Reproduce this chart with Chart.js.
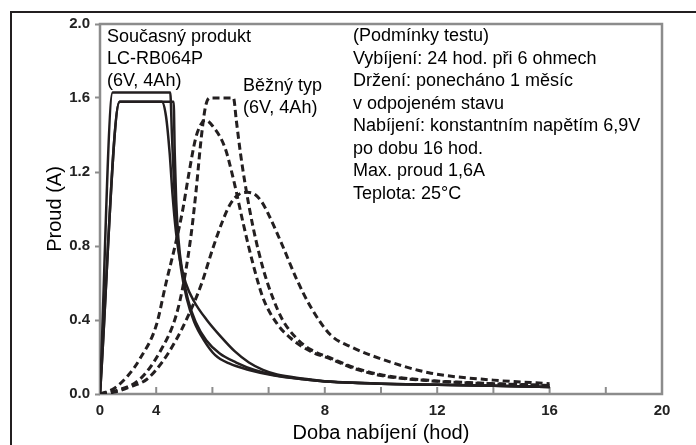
<!DOCTYPE html>
<html>
<head>
    <title>Proud při nabíjení</title>
    <script src="https://cdn.jsdelivr.net/npm/chart.js"></script>
    <style>
        body { margin: 0; background: #fff; }
        #wrap { position: relative; width: 696px; height: 445px; overflow: hidden; }
        #frame { position: absolute; left: 10px; top: 11px; width: 800px; height: 500px;
                 border-top: 2px solid #231f20; border-left: 2px solid #231f20; }
        canvas { position: absolute; left: 0; top: 0; }
    </style>
</head>
<body>
<div id="wrap">
    <div id="frame"></div>
    <canvas id="chargeChart" width="696" height="445"></canvas>
</div>

<script>
    // [hodiny, proud A]
    const currentA = [[0,0],[0.45,1.63],[2.5,1.63],[2.56,1.4],[2.64,1.12],[2.74,0.88],[2.88,0.68],[3.08,0.52],[3.35,0.39],[3.7,0.29],[4.1,0.21],[4.6,0.165],[5.3,0.13],[6.2,0.1],[7.2,0.08],[8.2,0.066],[10,0.056],[12,0.05],[14,0.044],[16,0.038]];
    const currentB = [[0,0],[0.7,1.58],[2.62,1.58],[2.66,1.3],[2.71,1.05],[2.79,0.84],[2.93,0.66],[3.13,0.51],[3.4,0.39],[3.78,0.29],[4.25,0.22],[4.85,0.17],[5.5,0.13],[6.2,0.103],[7.2,0.081],[8.2,0.066],[10,0.056],[12,0.05],[14,0.044],[16,0.038]];
    const currentC = [[0,0],[0.7,1.58],[2.2,1.58],[2.35,1.5],[2.48,1.3],[2.58,1.08],[2.7,0.88],[2.85,0.72],[3.05,0.6],[3.35,0.5],[3.8,0.4],[4.3,0.31],[4.8,0.23],[5.3,0.17],[5.8,0.13],[6.3,0.105],[7.2,0.084],[8.2,0.067],[10,0.056],[12,0.05],[14,0.044],[16,0.038]];
    const commonA = [[0,0],[0.5,0.03],[1.0,0.1],[1.42,0.19],[2.0,0.37],[2.35,0.6],[2.7,0.82],[2.95,1.0],[3.15,1.18],[3.4,1.38],[3.6,1.46],[3.75,1.48],[4.0,1.45],[4.45,1.33],[4.75,1.16],[5.1,0.92],[5.45,0.7],[5.8,0.52],[6.3,0.38],[6.8,0.3],[7.5,0.23],[8.2,0.19],[9,0.14],[10,0.1],[11.7,0.072],[14,0.055],[16,0.045]];
    const commonB = [[0,0],[0.6,0.02],[1.42,0.08],[2.14,0.23],[2.7,0.42],[3.0,0.62],[3.25,0.87],[3.42,1.1],[3.6,1.38],[3.75,1.55],[3.9,1.6],[4.75,1.6],[4.85,1.48],[5.0,1.3],[5.16,1.14],[5.45,0.9],[5.8,0.68],[6.15,0.52],[6.5,0.4],[7.0,0.3],[7.5,0.24],[8.2,0.195],[9,0.145],[10,0.104],[11.7,0.074],[14,0.056],[16,0.046]];
    const commonC = [[0,0],[0.5,0.01],[1.0,0.035],[1.67,0.08],[2.2,0.17],[2.7,0.29],[3.1,0.41],[3.6,0.59],[4.0,0.78],[4.35,0.93],[4.65,1.03],[4.95,1.08],[5.25,1.09],[5.5,1.08],[5.75,1.04],[6.0,0.97],[6.5,0.8],[7.0,0.62],[7.5,0.47],[8.2,0.32],[9,0.25],[10,0.19],[11.7,0.115],[14,0.075],[16,0.056]];

    const xTickValues = [0,2,4,6,8,10,12,14,16,18,20];
    const xTickLabels = ['0','4','','','8','','12','','16','','20'];   // tak jak na předloze
    const yTickValues = [0,0.4,0.8,1.2,1.6,2.0];

    const productLabel = ['Současný produkt', 'LC-RB064P', '(6V, 4Ah)'];
    const commonLabel = ['Běžný typ', '(6V, 4Ah)'];
    const conditions = [
        '(Podmínky testu)',
        'Vybíjení: 24 hod. při 6 ohmech',
        'Držení: ponecháno 1 měsíc',
        'v odpojeném stavu',
        'Nabíjení: konstantním napětím 6,9V',
        'po dobu 16 hod.',
        'Max. proud 1,6A',
        'Teplota: 25°C'
    ];

    const ink = '#231f20';
    const axisGray = '#8c8c8c';

    const toPoints = arr => arr.map(p => ({ x: p[0], y: p[1] }));

    function solid(data) {
        return { data: toPoints(data), borderColor: ink, borderWidth: 2.5, pointRadius: 0,
                 cubicInterpolationMode: 'monotone', fill: false };
    }
    function dashed(data) {
        return { data: toPoints(data), borderColor: ink, borderWidth: 3, borderDash: [7, 4],
                 pointRadius: 0, cubicInterpolationMode: 'monotone', fill: false };
    }

    const extras = {
        id: 'extras',
        beforeDatasetsDraw(chart) {
            const { ctx, chartArea: a, scales: { x } } = chart;
            ctx.save();
            ctx.strokeStyle = axisGray;
            ctx.lineWidth = 2;
            // vnitřní značky na ose x
            xTickValues.forEach(v => {
                const px = x.getPixelForValue(v);
                ctx.beginPath();
                ctx.moveTo(px, a.bottom);
                ctx.lineTo(px, a.bottom - 7);
                ctx.stroke();
            });
            ctx.lineWidth = 2.5;
            ctx.strokeRect(a.left, a.top, a.right - a.left, a.bottom - a.top);
            ctx.restore();
        },
        afterDraw(chart) {
            const { ctx } = chart;
            ctx.save();
            ctx.fillStyle = '#000';
            ctx.font = '18px "Liberation Sans", Arial, sans-serif';
            ctx.textBaseline = 'alphabetic';
            productLabel.forEach((t, i) => ctx.fillText(t, 107, 42 + i * 22));
            commonLabel.forEach((t, i) => ctx.fillText(t, 243, 91 + i * 22));
            conditions.forEach((t, i) => ctx.fillText(t, 353, 41 + i * 22.5));
            ctx.restore();
        }
    };

    new Chart(document.getElementById('chargeChart'), {
        type: 'line',
        data: {
            datasets: [
                solid(currentA), solid(currentB), solid(currentC),
                dashed(commonA), dashed(commonB), dashed(commonC)
            ]
        },
        options: {
            responsive: false,
            animation: false,
            layout: { padding: { top: 24, right: 34, left: 0, bottom: 0 } },
            plugins: { legend: { display: false }, tooltip: { enabled: false } },
            scales: {
                x: {
                    type: 'linear',
                    min: 0, max: 20,
                    afterBuildTicks: s => { s.ticks = xTickValues.map(v => ({ value: v })); },
                    afterFit: s => { s.height = 51; },
                    grid: { display: false, drawTicks: false },
                    border: { display: false },
                    ticks: {
                        padding: 8,
                        color: '#222',
                        font: { family: '"Liberation Sans", Arial, sans-serif', size: 15, weight: 'bold' },
                        callback: (v, i) => xTickLabels[i]
                    },
                    title: {
                        display: true,
                        text: 'Doba nabíjení (hod)',
                        color: '#000',
                        padding: { top: 0, bottom: 0 },
                        font: { family: '"Liberation Sans", Arial, sans-serif', size: 20 }
                    }
                },
                y: {
                    min: 0, max: 2,
                    afterBuildTicks: s => { s.ticks = yTickValues.map(v => ({ value: v })); },
                    afterFit: s => { s.width = 100; },
                    grid: { drawOnChartArea: false, drawTicks: true, tickLength: 5, tickWidth: 2, tickColor: axisGray },
                    border: { display: false },
                    ticks: {
                        padding: 5,
                        color: '#222',
                        font: { family: '"Liberation Sans", Arial, sans-serif', size: 15, weight: 'bold' },
                        callback: v => v.toFixed(1)
                    },
                    title: {
                        display: true,
                        text: 'Proud (A)',
                        color: '#000',
                        padding: { top: 43, bottom: 0 },
                        font: { family: '"Liberation Sans", Arial, sans-serif', size: 20 }
                    }
                }
            }
        },
        plugins: [extras]
    });
</script>
</body>
</html>
